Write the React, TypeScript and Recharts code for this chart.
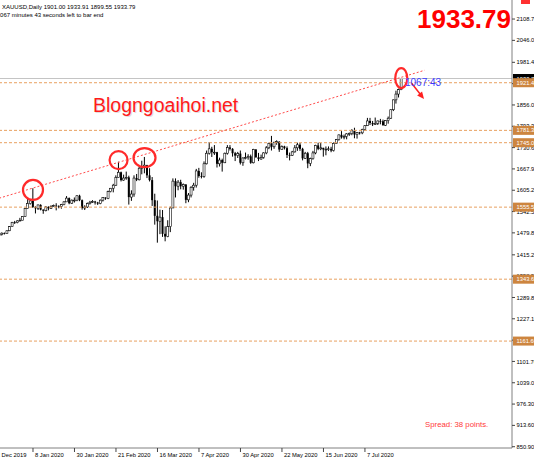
import React from 'react';
import {
  ComposedChart,
  Bar,
  XAxis,
  YAxis,
  ReferenceLine,
  ReferenceDot,
} from 'recharts';

// Daily XAUUSD bars, 13 Dec 2019 .. 27 Jul 2020 (one row of 16 bars per date label)
const opens = [
  1468, 1476, 1476, 1475, 1475, 1479, 1478, 1486, 1498, 1511, 1510, 1515, 1517, 1528, 1552, 1566,
  1574, 1556, 1552, 1562, 1548, 1545, 1556, 1552, 1557, 1560, 1558, 1557, 1563, 1571, 1582, 1567,
  1576, 1576, 1589, 1576, 1553, 1556, 1566, 1570, 1572, 1569, 1566, 1576, 1584, 1581, 1601, 1611,
  1620, 1643, 1658, 1635, 1641, 1643, 1585, 1594, 1641, 1636, 1670, 1673, 1679, 1649, 1635, 1576,
  1530, 1514, 1526, 1477, 1469, 1498, 1553, 1632, 1617, 1629, 1617, 1622, 1577, 1591, 1614, 1620,
  1662, 1647, 1646, 1683, 1714, 1727, 1717, 1717, 1683, 1694, 1686, 1714, 1731, 1727, 1714, 1707,
  1713, 1686, 1700, 1701, 1705, 1686, 1725, 1702, 1697, 1702, 1715, 1730, 1743, 1733, 1745, 1748,
  1725, 1734, 1729, 1709, 1708, 1718, 1730, 1739, 1727, 1699, 1714, 1684, 1698, 1715, 1737, 1727,
  1730, 1725, 1726, 1727, 1722, 1743, 1754, 1768, 1761, 1763, 1771, 1772, 1780, 1769, 1775, 1774,
  1784, 1795, 1809, 1803, 1799, 1802, 1809, 1808, 1796, 1810, 1817, 1842, 1871, 1888, 1901,
];
const highs = [
  1481, 1479, 1481, 1479, 1481, 1481, 1487, 1500, 1512, 1515, 1517, 1524, 1529, 1553, 1582, 1576,
  1611, 1558, 1563, 1564, 1549, 1558, 1558, 1561, 1563, 1567, 1561, 1565, 1573, 1588, 1584, 1578,
  1584, 1590, 1592, 1578, 1561, 1569, 1574, 1576, 1574, 1571, 1578, 1585, 1584, 1604, 1612, 1624,
  1649, 1689, 1660, 1651, 1660, 1648, 1605, 1649, 1653, 1674, 1692, 1703, 1680, 1670, 1644, 1595,
  1575, 1548, 1547, 1499, 1517, 1557, 1640, 1640, 1635, 1636, 1625, 1623, 1597, 1617, 1627, 1668,
  1671, 1658, 1690, 1722, 1747, 1733, 1738, 1718, 1701, 1698, 1716, 1738, 1738, 1729, 1718, 1718,
  1722, 1702, 1716, 1711, 1710, 1727, 1726, 1715, 1710, 1717, 1735, 1745, 1765, 1748, 1752, 1749,
  1737, 1736, 1734, 1716, 1721, 1738, 1745, 1744, 1730, 1718, 1718, 1701, 1721, 1739, 1745, 1744,
  1730, 1734, 1734, 1733, 1746, 1756, 1769, 1779, 1769, 1773, 1775, 1785, 1789, 1776, 1777, 1786,
  1797, 1818, 1818, 1809, 1819, 1810, 1815, 1813, 1811, 1822, 1843, 1872, 1898, 1904, 1933.91,
];
const lows = [
  1466, 1472, 1474, 1473, 1472, 1475, 1477, 1485, 1497, 1506, 1508, 1514, 1517, 1527, 1552, 1563,
  1553, 1537, 1547, 1546, 1536, 1543, 1546, 1550, 1556, 1546, 1552, 1551, 1561, 1571, 1564, 1565,
  1569, 1573, 1573, 1548, 1547, 1553, 1563, 1568, 1563, 1562, 1564, 1572, 1577, 1579, 1599, 1599,
  1618, 1643, 1631, 1633, 1636, 1563, 1574, 1586, 1632, 1634, 1652, 1655, 1641, 1631, 1559, 1504,
  1451, 1476, 1468, 1455, 1467, 1482, 1553, 1584, 1605, 1608, 1607, 1567, 1570, 1584, 1604, 1613,
  1642, 1640, 1642, 1681, 1710, 1703, 1709, 1672, 1675, 1660, 1685, 1710, 1722, 1704, 1691, 1700,
  1681, 1677, 1696, 1695, 1683, 1684, 1701, 1691, 1695, 1698, 1711, 1726, 1722, 1727, 1739, 1718,
  1724, 1725, 1700, 1693, 1706, 1716, 1721, 1721, 1693, 1697, 1670, 1676, 1695, 1711, 1723, 1723,
  1704, 1708, 1721, 1717, 1719, 1742, 1751, 1757, 1755, 1755, 1765, 1767, 1758, 1757, 1769, 1770,
  1780, 1794, 1797, 1794, 1797, 1797, 1799, 1796, 1794, 1801, 1815, 1838, 1860, 1878, 1899.55,
];
const closes = [
  1476, 1476, 1475, 1475, 1479, 1478, 1486, 1498, 1511, 1510, 1515, 1517, 1528, 1552, 1566, 1574,
  1556, 1552, 1562, 1548, 1545, 1556, 1552, 1557, 1560, 1558, 1557, 1563, 1571, 1582, 1567, 1576,
  1576, 1589, 1576, 1553, 1556, 1566, 1570, 1572, 1569, 1566, 1576, 1584, 1581, 1601, 1611, 1620,
  1643, 1658, 1635, 1641, 1643, 1585, 1594, 1641, 1636, 1670, 1673, 1679, 1649, 1635, 1576, 1530,
  1514, 1526, 1477, 1469, 1498, 1553, 1632, 1617, 1629, 1617, 1622, 1577, 1591, 1614, 1620, 1662,
  1647, 1646, 1683, 1714, 1727, 1717, 1717, 1683, 1694, 1686, 1714, 1731, 1727, 1714, 1707, 1713,
  1686, 1700, 1701, 1705, 1686, 1725, 1702, 1697, 1702, 1715, 1730, 1743, 1733, 1745, 1748, 1725,
  1734, 1729, 1709, 1708, 1718, 1730, 1739, 1727, 1699, 1714, 1684, 1698, 1715, 1737, 1727, 1730,
  1725, 1726, 1727, 1722, 1743, 1754, 1768, 1761, 1763, 1771, 1772, 1780, 1769, 1775, 1774, 1784,
  1795, 1809, 1803, 1799, 1802, 1809, 1808, 1796, 1810, 1817, 1842, 1871, 1888, 1901, 1933.79,
];

// bottom axis labels and the bar they sit on
const dateTicks = [0, 16, 32, 48, 64, 80, 96, 112, 128, 144];
const dateLabels = [
  '13 Dec 2019', '8 Jan 2020', '30 Jan 2020', '21 Feb 2020', '16 Mar 2020',
  '7 Apr 2020', '30 Apr 2020', '22 May 2020', '15 Jun 2020', '7 Jul 2020',
];

// right price scale
const priceTicks = [
  850.9, 913.6, 976.3, 1039.0, 1101.7, 1164.4, 1227.1, 1289.8, 1352.5, 1415.2, 1479.8,
  1542.5, 1605.2, 1667.9, 1730.6, 1793.3, 1856.0, 1918.7, 1981.4, 2046.0, 2108.7,
];
const bidPrice = 1933.79;
const levelPrices = [1921.4, 1781.3, 1745.0, 1555.5, 1343.6, 1161.6];

// trend line and marked highs
const trendFrom = { x: 0, y: 1575 };
const trendTo = { x: 167, y: 1958 };
const markedHighs = [
  { x: 16, y: 1606, rx: 10, ry: 10 },
  { x: 49, y: 1694, rx: 9, ry: 9 },
  { x: 59, y: 1701, rx: 11, ry: 9.5 },
  { x: 158, y: 1935, rx: 6, ry: 10 },
];
const arrowFrom = { x: 162, y: 1920 };
const arrowTo = { x: 165.8, y: 1883 };

const data = closes.map((c, i) => ({
  i,
  open: opens[i],
  high: highs[i],
  low: lows[i],
  close: c,
}));

const AXIS_FONT = "'Liberation Sans', Arial, sans-serif";

const Candle = (props: any) => {
  const { x, y, width, height, payload } = props;
  const { open, high, low, close } = payload;
  const top = Math.min(y, y + height);
  const h = Math.abs(height);
  const cx = x + width / 2;
  const span = high - low || 1;
  const py = (p: number) => top + ((high - p) / span) * h;
  const bTop = py(Math.max(open, close));
  const bBot = py(Math.min(open, close));
  const bull = close >= open;
  return (
    <g>
      <line x1={cx} x2={cx} y1={top} y2={top + h} stroke="#000" strokeWidth={1} />
      <rect
        x={cx - 1}
        y={bTop}
        width={2}
        height={Math.max(bBot - bTop, 0.8)}
        fill={bull ? '#fff' : '#000'}
        stroke="#000"
        strokeWidth={bull ? 0.6 : 0}
      />
    </g>
  );
};

const DateTick = (props: any) => {
  const { x, y, payload } = props;
  const k = dateTicks.indexOf(payload.value);
  return (
    <g>
      <line x1={x} x2={x} y1={y} y2={y + 4} stroke="#444" />
      <text x={x + 2} y={y + 8.5} fontSize={5.8} fill="#000" fontFamily={AXIS_FONT}>
        {dateLabels[k]}
      </text>
    </g>
  );
};

const PriceTick = (props: any) => {
  const { x, y, payload } = props;
  const v = payload.value as number;
  const txt = v.toFixed(2);
  if (levelPrices.includes(v) || v === bidPrice) {
    const bg = v === bidPrice ? '#000' : '#cd853f';
    return (
      <g>
        <rect x={x + 1} y={y - 4.5} width={24} height={9} fill={bg} />
        <text x={x + 4.5} y={y + 2.1} fontSize={5.8} fill="#fff" fontFamily={AXIS_FONT}>
          {txt}
        </text>
      </g>
    );
  }
  return (
    <g>
      <line x1={x} x2={x + 3} y1={y} y2={y} stroke="#444" />
      <text x={x + 4.5} y={y + 2.1} fontSize={5.8} fill="#000" fontFamily={AXIS_FONT}>
        {txt}
      </text>
    </g>
  );
};

const ellipseShape = (rx: number, ry: number) => (p: any) => (
  <ellipse cx={p.cx} cy={p.cy} rx={rx} ry={ry} fill="none" stroke="#ff2a2a" strokeWidth={2.2} />
);

const arrowHead = (p: any) => (
  <polygon
    points="4,0 -3,-3.2 -3,3.2"
    fill="#ff2020"
    transform={`translate(${p.cx},${p.cy}) rotate(51)`}
  />
);

export default function App() {
  return (
    <div
      style={{
        position: 'absolute',
        left: 0,
        top: 0,
        width: 534,
        height: 462,
        overflow: 'hidden',
        background: '#fff',
      }}
    >
      <ComposedChart
        width={534}
        height={462}
        data={data}
        margin={{ top: 0, right: 0, bottom: 0, left: 0 }}
      >
        <XAxis
          dataKey="i"
          type="number"
          domain={[3.28, 200.7]}
          allowDataOverflow
          ticks={dateTicks}
          interval={0}
          tick={<DateTick />}
          tickLine={false}
          tickSize={0}
          tickMargin={0}
          height={14}
          axisLine={{ stroke: '#808080' }}
        />
        <YAxis
          orientation="right"
          type="number"
          domain={[847.1, 2164.7]}
          allowDataOverflow
          ticks={[...priceTicks, bidPrice, ...levelPrices]}
          interval={0}
          tick={<PriceTick />}
          tickLine={false}
          tickSize={0}
          tickMargin={0}
          width={22}
          axisLine={{ stroke: '#808080' }}
        />
        <ReferenceLine y={bidPrice} stroke="#c4c4c4" strokeWidth={1} />
        {levelPrices.map((p) => (
          <ReferenceLine key={p} y={p} stroke="#e8a060" strokeDasharray="3 2" strokeWidth={1} />
        ))}
        <Bar
          dataKey={(d: any) => [d.low, d.high]}
          barSize={3}
          shape={<Candle />}
          isAnimationActive={false}
        />
        <ReferenceLine
          segment={[trendFrom, trendTo]}
          ifOverflow="hidden"
          stroke="#ff4a4a"
          strokeDasharray="2 2"
          strokeWidth={1}
        />
        {markedHighs.map((m) => (
          <ReferenceDot
            key={m.x}
            x={m.x}
            y={m.y}
            r={m.rx}
            shape={ellipseShape(m.rx, m.ry)}
          />
        ))}
        <ReferenceLine
          segment={[arrowFrom, arrowTo]}
          stroke="#ff2020"
          strokeWidth={1.5}
        />
        <ReferenceDot x={arrowTo.x} y={arrowTo.y} r={3} shape={arrowHead} />
      </ComposedChart>

      <svg
        width={534}
        height={462}
        style={{ position: 'absolute', left: 0, top: 0, pointerEvents: 'none' }}
      >
        <text x={2} y={9} fontSize={6} fill="#000" fontFamily={AXIS_FONT}>
          XAUUSD,Daily  1901.00 1933.91 1899.55 1933.79
        </text>
        <text x={-3.3} y={17} fontSize={6} fill="#000" fontFamily={AXIS_FONT}>
          1067 minutes 43 seconds left to bar end
        </text>
        <text
          x={511}
          y={27.5}
          textAnchor="end"
          fontSize={26}
          fontWeight="bold"
          fill="#ff0000"
          fontFamily="'Liberation Sans', Arial, sans-serif"
        >
          1933.79
        </text>
        <rect x={521} y={0} width={9} height={4} fill="#ff3030" />
        <text
          x={94}
          y={113}
          fontSize={19.5}
          fill="#e0e0e0"
          fontFamily="'Liberation Sans', Arial, sans-serif"
        >
          Blogngoaihoi.net
        </text>
        <text
          x={93}
          y={112}
          fontSize={19.5}
          fill="#ff1a1a"
          fontFamily="'Liberation Sans', Arial, sans-serif"
        >
          Blogngoaihoi.net
        </text>
        <text x={405} y={85.5} fontSize={10} fill="#3c3cff" fontFamily="'Liberation Sans', Arial, sans-serif">
          1067:43
        </text>
        <text x={425} y={427} fontSize={7.8} fill="#ff3a3a" fontFamily="'Liberation Sans', Arial, sans-serif">
          Spread: 38 points.
        </text>
      </svg>
    </div>
  );
}
